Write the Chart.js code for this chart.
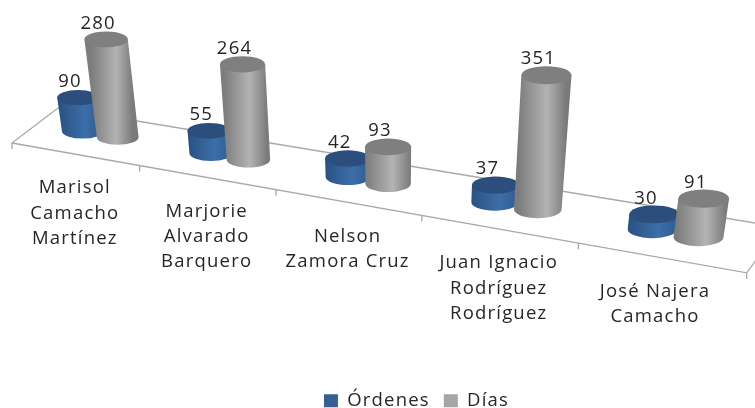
<!DOCTYPE html>
<html><head><meta charset="utf-8">
<style>html,body{margin:0;padding:0;background:#fff}canvas{display:block}</style>
<script src="https://cdn.jsdelivr.net/npm/chart.js@4/dist/chart.umd.js"></script>
</head><body><canvas id="c" width="755" height="408"></canvas>
<script>
const categories = [
  ["Marisol","Camacho","Martínez"],
  ["Marjorie","Alvarado","Barquero"],
  ["Nelson","Zamora Cruz"],
  ["Juan Ignacio","Rodríguez","Rodríguez"],
  ["José Najera","Camacho"]
];
const ordenes = [90,55,42,37,30];
const dias = [280,264,93,351,91];
const FONT = '"Open Sans", sans-serif';
const TXT = '#262626';
const SPACING = '1.2px';

// perspective floor: u = category position (0..5), d = depth (0 front .. 1 back)
const C = -0.0318;
function floor(u,d){
  const w = 1 + C*u;
  const fx = (12 + 123.2*u)/w, fy = (143 + 17.3*u)/w;
  const bx = (58 + 119.6*u)/w, by = (108 + 16.6*u)/w;
  return {x: fx + d*(bx-fx), y: fy + d*(by-fy)};
}
const VX = 390, VH = 2300, DEPTH = 0.56;

const paint = {
  0:{top:'#2b4e7c', stops:['#2a5283','#3c6ea8','#2f5b90']},
  1:{top:'#7f7f7f', stops:['#7c7c7c','#b3b3b3','#7a7a7a']}
};

function cylinder(ctx,p,t,wb,wt,pal){
  const rb=wb/2, rt=wt/2, ryb=wb*0.18, ryt=wt*0.18;
  const mx=(p.x+t.x)/2;
  const g=ctx.createLinearGradient(mx-rb,0,mx+rb,0);
  g.addColorStop(0,pal.stops[0]); g.addColorStop(0.6,pal.stops[1]); g.addColorStop(1,pal.stops[2]);
  ctx.beginPath();
  ctx.moveTo(t.x-rt,t.y);
  ctx.lineTo(p.x-rb,p.y);
  ctx.ellipse(p.x,p.y,rb,ryb,0,Math.PI,0,true);
  ctx.lineTo(t.x+rt,t.y);
  ctx.closePath();
  ctx.fillStyle=g; ctx.fill();
  ctx.beginPath();
  ctx.ellipse(t.x,t.y,rt,ryt,0,0,Math.PI*2);
  ctx.fillStyle=pal.top; ctx.fill();
}

function place(chart,el){
  const xs=chart.scales.x, ys=chart.scales.y, catW=xs.width/categories.length;
  const u=(el.x-xs.left)/catW*0.992+0.005;
  const p=floor(u,DEPTH);
  p.y+=u*0.3;
  const frac=(el.base-el.y)/ys.height;
  const h=frac*(132/(1+C*u))+3.5;
  return {u,p,h,t:{x:p.x+(p.x-VX)*h/VH,y:p.y-h}};
}

const cyl3d = {
  id:'cyl3d',
  beforeUpdate(chart){ chart.ctx.letterSpacing=SPACING; },
  beforeDraw(chart){ chart.ctx.letterSpacing=SPACING; },
  beforeDatasetsDraw(chart){
    const ctx=chart.ctx, n=categories.length;
    ctx.save();
    ctx.strokeStyle='#a9a9a9'; ctx.lineWidth=1.3;
    const a=floor(0,0), b=floor(n,0), c=floor(0,1), e=floor(n,1);
    ctx.beginPath();
    ctx.moveTo(c.x,c.y); ctx.lineTo(a.x,a.y); ctx.lineTo(b.x,b.y); ctx.lineTo(e.x,e.y); ctx.lineTo(c.x,c.y);
    for(let i=0;i<=n;i++){const q=floor(i,0); ctx.moveTo(q.x,q.y); ctx.lineTo(q.x,q.y+6);}
    ctx.stroke();
    ctx.fillStyle=TXT; ctx.font='18.5px '+FONT; ctx.textAlign='center'; ctx.textBaseline='middle';
    chart.data.labels.forEach((lab,i)=>{
      const q=floor(i+0.5,0);
      lab.forEach((l,k)=>ctx.fillText(l,q.x-(i===n-1?6:0),q.y+34+k*25.3));
    });
    ctx.restore();
  },
  beforeDatasetDraw(){ return false; },
  afterDatasetsDraw(chart){
    const ctx=chart.ctx;
    ctx.save();
    chart.data.datasets.forEach((ds,di)=>{
      chart.getDatasetMeta(di).data.forEach(el=>{
        const {u,p,h,t}=place(chart,el);
        const slope=floor(u+0.5,0).x-floor(u-0.5,0).x;
        const wb=slope*0.2+16;
        cylinder(ctx,p,t,wb,wb*(1+h/2500),paint[di]);
      });
    });
    ctx.fillStyle=TXT; ctx.font='18.5px '+FONT; ctx.textAlign='center'; ctx.textBaseline='middle';
    chart.data.datasets.forEach((ds,di)=>{
      chart.getDatasetMeta(di).data.forEach((el,i)=>{
        const {t}=place(chart,el);
        ctx.fillText(String(ds.data[i]),t.x-8,t.y-16);
      });
    });
    ctx.restore();
  }
};

new Chart(document.getElementById('c'),{
  type:'bar',
  data:{labels:categories,datasets:[
    {label:'Órdenes',data:ordenes,backgroundColor:'#376092',categoryPercentage:0.56,barPercentage:1},
    {label:'Días',data:dias,backgroundColor:'#a6a6a6',categoryPercentage:0.56,barPercentage:1}
  ]},
  options:{
    responsive:false,animation:false,
    layout:{padding:{left:78,right:0,top:0,bottom:-12}},
    scales:{x:{display:false},y:{display:false,min:0,max:400}},
    plugins:{
      tooltip:{enabled:false},
      legend:{position:'bottom',labels:{font:{family:'"Open Sans", sans-serif',size:18.5},color:TXT,boxWidth:14,boxHeight:13,padding:14}}
    }
  },
  plugins:[cyl3d]
});
</script></body></html>
